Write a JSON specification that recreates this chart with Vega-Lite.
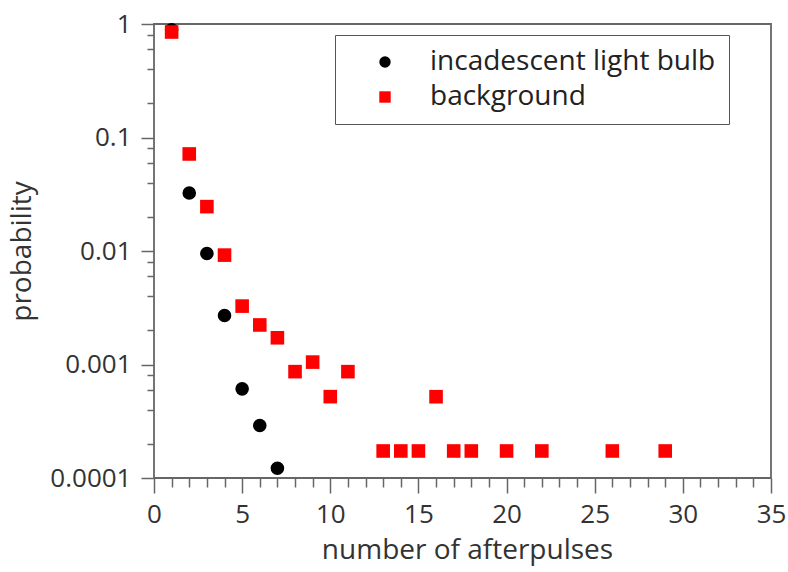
{
  "$schema": "https://vega.github.io/schema/vega-lite/v6.json",
  "width": 617,
  "height": 454,
  "autosize": {"type": "none"},
  "padding": {"left": 154, "top": 24, "right": 17, "bottom": 94},
  "background": "white",
  "config": {
    "font": "Open Sans",
    "view": {"stroke": "#666666", "strokeWidth": 1.8},
    "axis": {"labelColor": "#333333", "titleColor": "#333333", "tickColor": "#666666", "tickWidth": 1.5, "domain": false, "grid": false, "labelFontSize": 26, "titleFontSize": 28, "titleFontWeight": "normal", "labelFont": "Open Sans", "titleFont": "Open Sans"}
  },
  "data": {
    "values": [
      {"n": 1, "p": 0.89, "source": "incadescent light bulb"},
      {"n": 2, "p": 0.0324, "source": "incadescent light bulb"},
      {"n": 3, "p": 0.0095, "source": "incadescent light bulb"},
      {"n": 4, "p": 0.0027, "source": "incadescent light bulb"},
      {"n": 5, "p": 0.00061, "source": "incadescent light bulb"},
      {"n": 6, "p": 0.00029, "source": "incadescent light bulb"},
      {"n": 7, "p": 0.000122, "source": "incadescent light bulb"},
      {"n": 1, "p": 0.85, "source": "background"},
      {"n": 2, "p": 0.0716, "source": "background"},
      {"n": 3, "p": 0.0246, "source": "background"},
      {"n": 4, "p": 0.0092, "source": "background"},
      {"n": 5, "p": 0.00327, "source": "background"},
      {"n": 6, "p": 0.00223, "source": "background"},
      {"n": 7, "p": 0.00172, "source": "background"},
      {"n": 8, "p": 0.000865, "source": "background"},
      {"n": 9, "p": 0.00105, "source": "background"},
      {"n": 10, "p": 0.000521, "source": "background"},
      {"n": 11, "p": 0.000865, "source": "background"},
      {"n": 13, "p": 0.000173, "source": "background"},
      {"n": 14, "p": 0.000173, "source": "background"},
      {"n": 15, "p": 0.000173, "source": "background"},
      {"n": 16, "p": 0.00052, "source": "background"},
      {"n": 17, "p": 0.000173, "source": "background"},
      {"n": 18, "p": 0.000173, "source": "background"},
      {"n": 20, "p": 0.000173, "source": "background"},
      {"n": 22, "p": 0.000173, "source": "background"},
      {"n": 26, "p": 0.000173, "source": "background"},
      {"n": 29, "p": 0.000173, "source": "background"}
    ]
  },
  "mark": {"type": "point", "filled": true, "opacity": 1, "size": 185},
  "encoding": {
    "x": {
      "field": "n", "type": "quantitative",
      "scale": {"domain": [0, 35], "nice": false, "zero": false},
      "axis": {
        "title": "number of afterpulses",
        "titleX": 313,
        "values": [0,1,2,3,4,5,6,7,8,9,10,11,12,13,14,15,16,17,18,19,20,21,22,23,24,25,26,27,28,29,30,31,32,33,34,35],
        "labelExpr": "datum.value % 5 === 0 ? datum.label : ''",
        "labelOverlap": false,
        "labelFlush": false,
        "tickSize": {"condition": {"test": "datum.value % 5 === 0", "value": 15}, "value": 9},
        "labelPadding": 8,
        "titlePadding": 9
      }
    },
    "y": {
      "field": "p", "type": "quantitative",
      "scale": {"type": "log", "domain": [0.0001, 1], "nice": false},
      "axis": {
        "title": "probability",
        "values": [0.0001,0.0002,0.0004,0.0006,0.0008,0.001,0.002,0.004,0.006,0.008,0.01,0.02,0.04,0.06,0.08,0.1,0.2,0.4,0.6,0.8,1],
        "labelExpr": "abs(log(datum.value)/LN10 - round(log(datum.value)/LN10)) < 1e-6 ? format(datum.value, '~g') : ''",
        "labelOverlap": false,
        "labelFlush": false,
        "tickSize": {"condition": {"test": "abs(log(datum.value)/LN10 - round(log(datum.value)/LN10)) < 1e-6", "value": 13}, "value": 7},
        "labelPadding": 10,
        "titlePadding": 13
      }
    },
    "order": {"field": "source", "type": "nominal", "sort": "descending"},
    "color": {
      "field": "source", "type": "nominal",
      "scale": {"domain": ["incadescent light bulb", "background"], "range": ["#000000", "#ff0000"]},
      "legend": {
        "title": null, "orient": "none", "legendX": 181, "legendY": 11,
        "strokeColor": "#555555", "padding": 13,
        "labelFontSize": 28, "labelColor": "#222222", "labelFont": "Open Sans", "labelLimit": 600,
        "symbolSize": 130, "rowPadding": 7, "labelOffset": 31, "symbolOffset": 23
      }
    },
    "shape": {
      "field": "source", "type": "nominal",
      "scale": {"domain": ["incadescent light bulb", "background"], "range": ["circle", "square"]},
      "legend": {
        "title": null, "orient": "none", "legendX": 181, "legendY": 11,
        "strokeColor": "#555555", "padding": 13,
        "labelFontSize": 28, "labelColor": "#222222", "labelFont": "Open Sans", "labelLimit": 600,
        "symbolSize": 130, "rowPadding": 7, "labelOffset": 31, "symbolOffset": 23
      }
    }
  }
}
